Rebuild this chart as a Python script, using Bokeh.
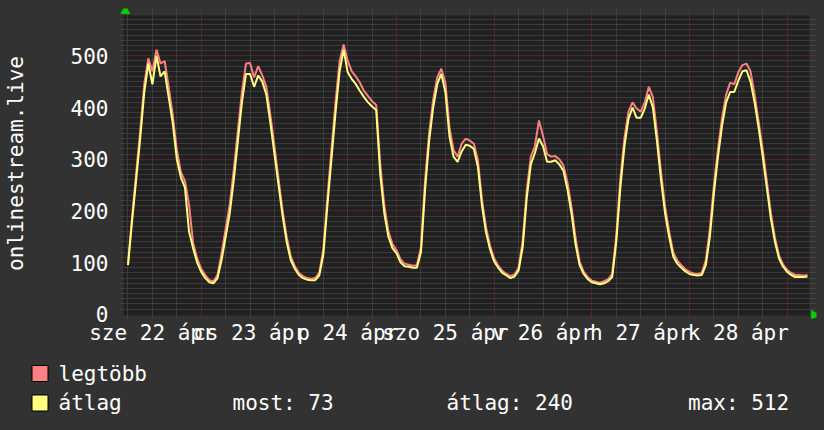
import math
from bokeh.plotting import figure
from bokeh.layouts import column
from bokeh.models import (Range1d, FixedTicker, Grid, BoxAnnotation, Label)
from bokeh.embed import file_html
from bokeh.resources import INLINE

# ---------------- data ----------------
hours = list(range(168))

avg_values = [
    95, 180, 260, 340, 430, 485, 445, 500, 460, 470, 420, 370,
    300, 265, 245, 160, 128, 100, 82, 70, 62, 60, 70, 105,
    150, 195, 260, 335, 410, 465, 465, 440, 462, 450, 425, 370,
    310, 250, 190, 140, 105, 88, 76, 70, 67, 66, 66, 75,
    115, 210, 300, 390, 470, 512, 468, 455, 445, 432, 420, 410,
    402, 395, 270, 195, 150, 128, 118, 100, 93, 92, 90, 90,
    120, 240, 335, 400, 445, 465, 430, 345, 305, 295, 315, 328,
    326, 320, 285, 210, 158, 125, 102, 90, 80, 75, 70, 73,
    85, 130, 225, 290, 312, 340, 325, 295, 295, 298, 290, 278,
    242, 195, 135, 95, 78, 68, 62, 60, 58, 60, 64, 72,
    140, 245, 325, 378, 400, 380, 380, 398, 425, 400, 335, 260,
    195, 150, 112, 98, 90, 83, 78, 76, 75, 76, 95, 150,
    235, 305, 365, 410, 430, 430, 452, 470, 472, 450, 410, 360,
    305, 245, 185, 140, 108, 92, 82, 76, 72, 72, 72, 73,
]

max_values = [
    98, 188, 272, 355, 445, 495, 470, 512, 485, 490, 440, 385,
    318, 275, 258, 212, 138, 108, 88, 76, 66, 64, 76, 118,
    165, 212, 280, 355, 430, 485, 486, 458, 480, 462, 440, 385,
    325, 262, 200, 150, 112, 93, 80, 74, 70, 69, 70, 80,
    125, 225, 318, 410, 490, 522, 490, 470, 460, 448, 432, 422,
    412, 405, 290, 210, 160, 136, 124, 106, 98, 96, 94, 95,
    130, 258, 350, 415, 458, 475, 448, 362, 318, 305, 330, 340,
    336, 330, 298, 222, 168, 132, 108, 94, 84, 78, 74, 77,
    90, 142, 240, 305, 325, 375, 345, 310, 305, 306, 300, 288,
    255, 208, 148, 102, 82, 72, 65, 63, 61, 64, 68, 78,
    152, 262, 340, 392, 410, 398, 392, 410, 440, 420, 352, 275,
    208, 160, 120, 104, 95, 87, 82, 79, 78, 80, 104, 165,
    250, 320, 380, 425, 448, 445, 468, 482, 485, 470, 425, 372,
    318, 258, 195, 148, 114, 96, 86, 80, 76, 76, 75, 76,
]

series_names = ["legtöbb", "átlag"]
series_colors = ["#ff8080", "#ffff80"]

y_ticks = [0, 100, 200, 300, 400, 500]
day_label_hours = [6, 30, 54, 78, 102, 126, 150]
day_labels = ["sze 22 ápr", "cs 23 ápr", "p 24 ápr", "szo 25 ápr",
              "v 26 ápr", "h 27 ápr", "k 28 ápr"]
midnight_hours = [18, 42, 66, 90, 114, 138, 162]
stat_texts = ["most: 73", "átlag: 240", "max: 512"]
y_title = "onlinestream.live"

# ---------------- layout constants ----------------
FONT = "DejaVu Sans Mono"
FS = "21px"
BG = "#323232"
CANVAS = "#212121"
GRID_MINOR = "#545454"
GRID_MAJOR = "#703030"
T0, T1 = -0.25, 167.5          # time axis origin / end (hours)
V_TOP = 578                     # top of drawing area (value)

p = figure(width=824, height=350,
           x_range=Range1d(-1.843, 169.21), y_range=Range1d(-8.12, 591.5),
           output_backend="svg", toolbar_location=None,
           min_border_left=120, min_border_right=8,
           min_border_top=8, min_border_bottom=32)
p.background_fill_color = BG
p.border_fill_color = BG
p.outline_line_color = None
for g in p.grid:
    g.visible = False

p.add_layout(BoxAnnotation(left=T0 - 0.85, right=T1, bottom=-2.3, top=V_TOP,
                           fill_color=CANVAS, fill_alpha=1.0,
                           line_alpha=0, level="image"))

minor_x = [h for h in range(0, 168, 6) if h not in midnight_hours]
minor_y = [v for v in range(10, V_TOP, 10) if v % 100 != 0]
major_y = [v for v in y_ticks if v > 0]
for dim, ticks, col, bnds in [
        (0, minor_x, GRID_MINOR, (-2.3, V_TOP)),
        (1, minor_y, GRID_MINOR, (T0 - 0.85, T1 + 0.3)),
        (0, midnight_hours, GRID_MAJOR, (-2.3, V_TOP)),
        (1, major_y, GRID_MAJOR, (T0 - 0.85, T1 + 0.3))]:
    p.add_layout(Grid(dimension=dim, ticker=FixedTicker(ticks=ticks),
                      grid_line_color=col, grid_line_dash="1 1",
                      grid_line_width=1, bounds=bnds))

p.line(hours, max_values, line_color=series_colors[0], line_width=2)
p.line(hours, avg_values, line_color=series_colors[1], line_width=2)

# axis arrows
p.scatter(x=[T0 - 0.4], y=[V_TOP + 8.6], marker="triangle", size=9,
          color="#00d000")
p.scatter(x=[T1 + 1.1], y=[-1.3], marker="triangle", size=9,
          angle=-math.pi / 2, color="#00d000")

# axes
for ax in (p.xaxis[0], p.yaxis[0]):
    ax.axis_line_color = None
    ax.major_tick_line_color = None
    ax.minor_tick_line_color = None
    ax.major_tick_out = 0
    ax.major_tick_in = 0
    ax.minor_tick_out = 0
    ax.major_label_text_color = "white"
    ax.major_label_text_font = FONT
    ax.major_label_text_font_size = FS

p.xaxis.ticker = FixedTicker(ticks=day_label_hours)
p.xaxis.major_label_overrides = {h: t for h, t in zip(day_label_hours, day_labels)}
p.xaxis.major_label_standoff = 2

p.yaxis.ticker = FixedTicker(ticks=y_ticks)
p.yaxis.major_label_standoff = 12
p.yaxis.axis_label = y_title
p.yaxis.axis_label_text_font = FONT
p.yaxis.axis_label_text_font_size = FS
p.yaxis.axis_label_text_font_style = "normal"
p.yaxis.axis_label_text_color = "white"
p.yaxis.axis_label_standoff = 40

# ---------------- legend panel (pixel-like coordinates, y downwards) ----------------
q = figure(width=824, height=80, x_range=Range1d(0, 824), y_range=Range1d(80, 0),
           output_backend="svg", toolbar_location=None,
           x_axis_location=None, y_axis_location=None,
           min_border_left=0, min_border_right=0,
           min_border_top=0, min_border_bottom=0)
q.background_fill_color = BG
q.border_fill_color = BG
q.outline_line_color = None
for g in q.grid:
    g.visible = False
for fig in (p, q):
    if "frame_align" in fig.properties():
        fig.frame_align = False

ROW_Y = [23, 52.5]               # legend row centres
for yc, name, col in zip(ROW_Y, series_names, series_colors):
    q.add_layout(BoxAnnotation(left=31.5, right=47.5, top=yc - 8, bottom=yc + 8,
                               fill_color=col, fill_alpha=1.0,
                               line_color="black", line_alpha=1.0, line_width=1))
    q.add_layout(Label(x=58, y=yc, text=name, text_baseline="middle",
                       text_font=FONT, text_font_size=FS, text_color="white"))

for x, t in zip([232, 446, 687.5], stat_texts):
    q.add_layout(Label(x=x, y=ROW_Y[1], text=t, text_baseline="middle",
                       text_font=FONT, text_font_size=FS, text_color="white"))

layout = column(p, q, spacing=0, styles={"background-color": BG})
open("out.html", "w").write(file_html(layout, INLINE))
